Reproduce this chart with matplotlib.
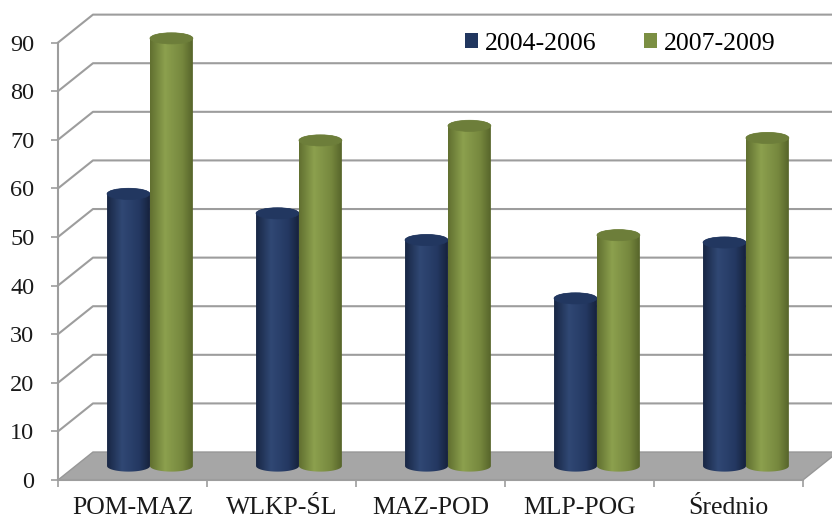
import numpy as np
import matplotlib
matplotlib.use("Agg")
import matplotlib.pyplot as plt
from matplotlib.path import Path
from matplotlib.patches import PathPatch, Ellipse, Polygon, Patch
from matplotlib.colors import LinearSegmentedColormap

categories = ["POM-MAZ", "WLKP-ŚL", "MAZ-POD", "MLP-POG", "Średnio"]
series_names = ["2004-2006", "2007-2009"]
values_0406 = [56, 52, 46.5, 34.5, 46]
values_0709 = [88, 67, 70, 47.5, 67.5]
yticks = list(range(0, 100, 10))

plt.rcParams["font.family"] = ["Liberation Serif", "DejaVu Serif"]

# oblique 3d look: depth offset of back wall in data units
DX, DY = 0.235, 5.76
GRID = "#9d9d9d"

blue_cmap = LinearSegmentedColormap.from_list("b", [
    (0.0, (24/255, 38/255, 68/255)), (0.35, (48/255, 72/255, 116/255)),
    (0.75, (36/255, 56/255, 98/255)), (1.0, (22/255, 34/255, 60/255))])
green_cmap = LinearSegmentedColormap.from_list("g", [
    (0.0, (96/255, 111/255, 48/255)), (0.35, (140/255, 160/255, 78/255)),
    (0.75, (118/255, 136/255, 62/255)), (1.0, (86/255, 100/255, 42/255))])
tops = ["#223760", "#6d7e3a"]
legend_colors = ["#21365f", "#7b8f43"]

fig = plt.figure(figsize=(8.32, 5.22), dpi=100)
ax = fig.add_axes([0, 0, 1, 1])
ax.patch.set_visible(False)


def cylinder(cx, a, b, yb, yt, cmap, top, z):
    t1 = np.linspace(np.pi, 2 * np.pi, 60)
    t2 = np.linspace(0, np.pi, 60)
    pts = np.vstack([
        np.column_stack([cx + a * np.cos(t1), yb + b * np.sin(t1)]),
        np.column_stack([cx + a * np.cos(t2), yt + b * np.sin(t2)]),
    ])
    clip = PathPatch(Path(np.vstack([pts, pts[:1]]), closed=True),
                     facecolor="none", edgecolor="none", transform=ax.transData)
    ax.add_patch(clip)
    grad = np.linspace(0, 1, 256).reshape(1, -1)
    im = ax.imshow(grad, extent=(cx - a, cx + a, yb - b, yt + b), aspect="auto",
                   cmap=cmap, interpolation="bilinear", zorder=z)
    im.set_clip_path(clip)
    ax.add_patch(Ellipse((cx, yt), 2 * a, 2 * b, facecolor=top,
                         edgecolor=top, lw=0.5, zorder=z + 0.5))


n = len(categories)
# floor
ax.add_patch(Polygon([(0, 0), (n, 0), (n + DX, DY), (DX, DY)], closed=True,
                     facecolor="#a6a6a6", edgecolor="#979797", lw=1, zorder=1))
# side + back wall gridlines
for v in yticks[1:]:
    ax.plot([0, DX, n + 2], [v, v + DY, v + DY], color=GRID, lw=1.5, zorder=0.5)

a, b = 0.144, 1.15
shift_x, base = 0.5 * DX, 0.5 * DY
for i in range(n):
    c = i + 0.5 + shift_x
    cylinder(c - a, a, b, base, base + values_0406[i], blue_cmap, tops[0], 3)
    cylinder(c + a, a, b, base, base + values_0709[i], green_cmap, tops[1], 4)

ax.set_xlim(-0.389, 5.195)
ax.set_ylim(-8.64, 98.77)

for s in ["top", "right"]:
    ax.spines[s].set_visible(False)
ax.spines["left"].set_position(("data", 0))
ax.spines["bottom"].set_position(("data", 0))
ax.spines["left"].set_bounds(0, 90)
ax.spines["bottom"].set_bounds(0, n)
for s in ["left", "bottom"]:
    ax.spines[s].set_color(GRID)
    ax.spines[s].set_linewidth(1.5)
    ax.spines[s].set_zorder(2)

ax.set_yticks(yticks)
ax.set_yticklabels([str(v) for v in yticks])
ax.tick_params(axis="y", direction="out", length=5, width=1.2, color=GRID,
               labelsize=17.5, pad=12, labelcolor="#1a1a1a")
ax.set_xticks(range(n + 1))
ax.set_xticklabels([""] * (n + 1))
ax.set_xticks([i + 0.5 for i in range(n)], minor=True)
ax.set_xticklabels(categories, minor=True)
ax.tick_params(axis="x", which="major", direction="out", length=5, width=1.2,
               color=GRID)
ax.tick_params(axis="x", which="minor", length=0, labelsize=18.5, pad=12,
               labelcolor="#1a1a1a")

handles = [Patch(facecolor=c, edgecolor="none") for c in legend_colors]
fig.legend(handles, series_names, ncol=2, loc="center left",
           bbox_to_anchor=(465 / 832, 1 - 44 / 522), frameon=False,
           borderpad=0, borderaxespad=0, handlelength=0.52, handleheight=0.52,
           handletextpad=0.25, columnspacing=1.85, prop={"size": 18.5})

fig.savefig("out.png", dpi=100)
